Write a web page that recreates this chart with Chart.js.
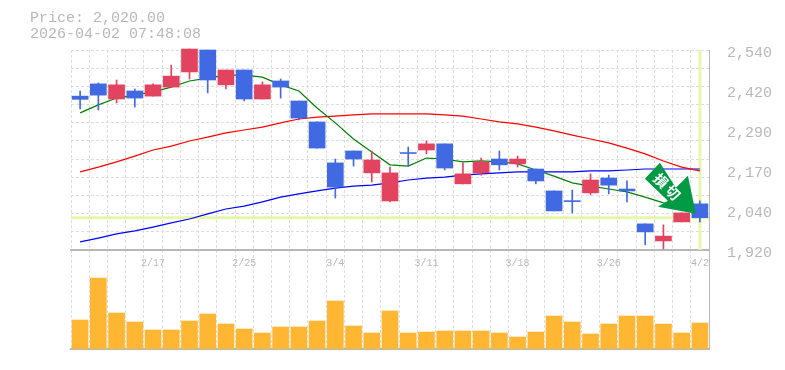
<!DOCTYPE html>
<html>
<head>
<meta charset="utf-8">
<script src="https://cdn.jsdelivr.net/npm/chart.js@4"></script>
<style>
  html, body { margin: 0; padding: 0; background: #fff; }
  #wrap { position: relative; width: 785px; height: 370px; overflow: hidden; }
  #head { position: absolute; left: 30px; top: 11px; font: 15px/15.5px "Liberation Mono", monospace; color: #b8b8b8; white-space: pre; }
  canvas { display: block; }
</style>
</head>
<body>
<div id="wrap">
  <div id="head">Price: 2,020.00
2026-04-02 07:48:08</div>
  <canvas id="chart" width="785" height="370"></canvas>
</div>
<script>
const dates = ['2/10', '2/12', '2/13', '2/16', '2/17', '2/18', '2/19', '2/20', '2/24', '2/25', '2/26', '2/27', '3/2', '3/3', '3/4', '3/5', '3/6', '3/9', '3/10', '3/11', '3/12', '3/13', '3/16', '3/17', '3/18', '3/19', '3/23', '3/24', '3/25', '3/26', '3/27', '3/30', '3/31', '4/1', '4/2'];
const shownDates = ['2/17', '2/25', '3/4', '3/11', '3/18', '3/26', '4/2'];

const open = [2397, 2435, 2388, 2413, 2397, 2425, 2472, 2540, 2432, 2478, 2388, 2444, 2382, 2317, 2190, 2227, 2159, 2072, 2222, 2230, 2249, 2125, 2159, 2202, 2187, 2171, 2103, 2073, 2097, 2143, 2109, 2001, 1948, 2007, 2063];
const high = [2413, 2438, 2447, 2419, 2435, 2493, 2543, 2540, 2478, 2478, 2441, 2450, 2382, 2317, 2202, 2227, 2227, 2177, 2239, 2258, 2249, 2190, 2205, 2227, 2211, 2171, 2103, 2106, 2156, 2152, 2134, 2001, 1998, 2035, 2072];
const low = [2357, 2354, 2376, 2363, 2397, 2425, 2450, 2407, 2419, 2382, 2388, 2391, 2323, 2236, 2081, 2180, 2131, 2069, 2180, 2218, 2168, 2125, 2152, 2168, 2177, 2125, 2041, 2035, 2091, 2094, 2069, 1936, 1923, 2007, 2007];
const close = [2387, 2400, 2432, 2391, 2432, 2459, 2543, 2447, 2478, 2388, 2432, 2425, 2329, 2236, 2115, 2202, 2199, 2159, 2219, 2249, 2174, 2156, 2193, 2184, 2202, 2134, 2041, 2070, 2137, 2121, 2103, 1976, 1963, 2035, 2020];

const maShort = [2345, 2370, 2391, 2400, 2410, 2425, 2444, 2453, 2462, 2462, 2456, 2432, 2413, 2360, 2314, 2264, 2224, 2184, 2180, 2205, 2202, 2193, 2196, 2193, 2187, 2168, 2149, 2128, 2118, 2109, 2100, 2084, 2066, 2053, 2047];
const maMid = [2162, 2177, 2193, 2211, 2230, 2242, 2258, 2270, 2283, 2292, 2301, 2314, 2326, 2332, 2335, 2339, 2342, 2342, 2342, 2342, 2339, 2335, 2326, 2317, 2311, 2301, 2289, 2276, 2264, 2252, 2236, 2218, 2196, 2177, 2165];
const maLong = [1945, 1957, 1970, 1979, 1991, 2004, 2016, 2032, 2047, 2056, 2069, 2084, 2094, 2103, 2112, 2118, 2121, 2128, 2137, 2143, 2146, 2152, 2156, 2159, 2162, 2162, 2162, 2162, 2165, 2165, 2168, 2171, 2171, 2171, 2171];
const volume = [29, 71, 36, 27, 19, 19, 28, 35, 25, 20, 16, 22, 22, 28, 48, 23, 16, 38, 16, 17, 18, 18, 18, 16, 12, 17, 33, 27, 15, 25, 33, 33, 25, 16, 26];

const priceTicks = [2540, 2416, 2292, 2168, 2044, 1920];
const priceLabels = ['2,540', '2,420', '2,290', '2,170', '2,040', '1,920'];
const gridTicks = [2540, 2484, 2427, 2371, 2314, 2258, 2202, 2145, 2089, 2033, 1976, 1920];
const lastPrice = 2020;

const UP = '#e2435f';
const DOWN = '#4169e1';
const GREY = '#b8b8b8';
const GRID = '#dddddd';
const LIME = '#e6f6ab';
const candleColors = close.map((c, i) => (c >= open[i] ? UP : DOWN));

// last price crosshair goes under the candles, the sell arrow over them
const overlay = {
  id: 'overlay',
  beforeDatasetsDraw(chart) {
    const { ctx, chartArea, scales } = chart;
    const x = scales.x.getPixelForValue(dates.length - 1);
    const y = scales.yPrice.getPixelForValue(lastPrice);
    ctx.save();
    ctx.fillStyle = LIME;
    ctx.fillRect(chartArea.left, y - 1.5, chartArea.right - chartArea.left, 3);
    ctx.fillRect(x - 1.5, chartArea.top, 3, scales.yPrice.getPixelForValue(1920) - chartArea.top);
    ctx.restore();
  },
  afterDatasetsDraw(chart) {
    const { ctx, scales } = chart;
    const tx = scales.x.getPixelForValue(dates.length - 1) - 4;
    const ty = scales.yPrice.getPixelForValue(lastPrice) - 4;
    const shape = [[0, 0], [-38, -7], [-28, -13], [-51, -35], [-36, -51], [-20, -26], [-8, -38]];
    ctx.save();
    ctx.translate(tx, ty);
    ctx.fillStyle = '#009944';
    ctx.beginPath();
    shape.forEach((p, i) => (i ? ctx.lineTo(p[0], p[1]) : ctx.moveTo(p[0], p[1])));
    ctx.closePath();
    ctx.fill();
    ctx.fillStyle = '#fff';
    ctx.font = 'bold 14px "Noto Sans CJK JP"';
    ctx.textAlign = 'center';
    ctx.textBaseline = 'middle';
    [['損', -35, -33], ['切', -23, -21]].forEach(g => {
      ctx.save();
      ctx.translate(g[1], g[2]);
      ctx.rotate(Math.PI / 4);
      ctx.fillText(g[0], 0, 0);
      ctx.restore();
    });
    ctx.restore();
  }
};

new Chart(document.getElementById('chart'), {
  type: 'bar',
  plugins: [overlay],
  data: {
    labels: dates,
    datasets: [
      { data: open.map((o, i) => [o, close[i]]), backgroundColor: candleColors, barThickness: 16, grouped: false, yAxisID: 'yPrice', order: 1, clip: false },
      { data: low.map((l, i) => [l, high[i]]), backgroundColor: candleColors, barThickness: 1, grouped: false, yAxisID: 'yPrice', order: 2, clip: false },
      { type: 'line', data: maLong, borderColor: '#0000ff', borderWidth: 1.2, pointRadius: 0, tension: 0, yAxisID: 'yPrice', order: 5 },
      { type: 'line', data: maMid, borderColor: '#ff0000', borderWidth: 1.2, pointRadius: 0, tension: 0, yAxisID: 'yPrice', order: 4 },
      { type: 'line', data: maShort, borderColor: '#008000', borderWidth: 1.2, pointRadius: 0, tension: 0, yAxisID: 'yPrice', order: 3 },
      { data: volume, backgroundColor: '#ffb733', barThickness: 16, grouped: false, yAxisID: 'yVol', order: 6 }
    ]
  },
  options: {
    responsive: false,
    animation: false,
    layout: { padding: { left: 71, top: 50, bottom: 21 } },
    plugins: {
      legend: { display: false },
      tooltip: { enabled: false },
      title: { display: false }
    },
    scales: {
      x: {
        type: 'category',
        offset: true,
        position: { yPrice: 1920 },
        grid: { offset: true, color: GRID, drawTicks: false },
        border: { display: true, color: GREY, dash: [3, 2], width: 0 },
        ticks: {
          autoSkip: false,
          maxRotation: 0,
          padding: 7,
          color: GREY,
          font: { family: '"Liberation Mono"', size: 10 },
          callback(value) {
            const label = this.getLabelForValue(value);
            return shownDates.includes(label) ? label : '';
          }
        }
      },
      xBase: {
        type: 'category',
        position: 'bottom',
        offset: true,
        grid: { display: false },
        border: { display: true, color: GREY, width: 2 },
        ticks: { display: false },
        afterFit(scale) { scale.height = 0; }
      },
      xMid: {
        type: 'category',
        offset: true,
        position: { yPrice: 1920 },
        grid: { display: false },
        border: { display: true, color: GREY, width: 2 },
        ticks: { display: false }
      },
      yGrid: {
        position: 'left',
        min: 1613,
        max: 2540,
        afterBuildTicks(scale) { scale.ticks = gridTicks.map(v => ({ value: v })); },
        grid: { color: GRID, drawTicks: false },
        border: { display: false, dash: [3, 2] },
        ticks: { display: false },
        afterFit(scale) { scale.width = 0; }
      },
      yPrice: {
        position: 'right',
        min: 1613,
        max: 2540,
        afterBuildTicks(scale) { scale.ticks = priceTicks.map(v => ({ value: v })); },
        grid: { display: false },
        border: { display: true, color: GREY, width: 1 },
        ticks: {
          autoSkip: false,
          padding: 10,
          labelOffset: 3,
          color: GREY,
          font: { family: '"Liberation Mono"', size: 15 },
          callback(value) { return priceLabels[priceTicks.indexOf(value)]; }
        },
        afterFit(scale) { scale.width = 76; }
      },
      yVol: {
        display: false,
        min: 0,
        max: 299
      }
    }
  }
});
</script>
</body>
</html>
